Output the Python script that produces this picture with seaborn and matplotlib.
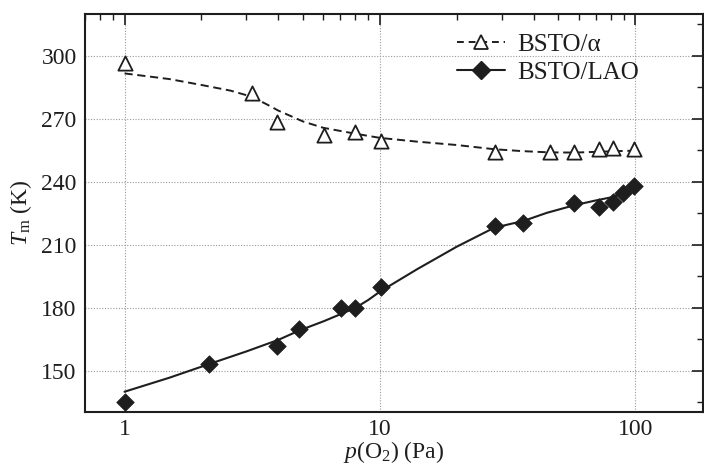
import matplotlib
matplotlib.use("Agg")
import matplotlib.pyplot as plt
from matplotlib.lines import Line2D
from matplotlib.ticker import LogLocator, MultipleLocator, NullFormatter, FixedLocator, FixedFormatter
import seaborn as sns
import pandas as pd

# Measured Tm of BSTO films versus oxygen pressure
p_alpha = [1.0, 3.15, 3.95, 6.05, 8.0, 10.1, 28.1, 46.4, 57.7, 72.1, 82.0, 99.1]
T_alpha = [296.5, 282.5, 268.7, 262.4, 264.0, 259.5, 254.4, 254.1, 254.1, 255.6, 256.0, 255.7]

p_lao = [1.0, 2.145, 3.95, 4.84, 7.03, 8.0, 10.1, 28.1, 36.3, 57.7, 72.1, 82.0, 89.8, 99.0]
T_lao = [135.4, 153.3, 162.0, 169.9, 180.1, 180.1, 189.9, 219.0, 220.3, 229.9, 228.0, 230.6, 234.6, 238.2]

# Guide-to-the-eye curves
fit_p_alpha = [1.0, 1.5, 2.0, 2.6, 3.15, 3.6, 4.0, 5.0, 6.0, 8.0, 10.0, 14.0, 20.0, 28.0, 36.0, 46.0, 58.0, 72.0, 85.0, 100.0]
fit_T_alpha = [291.7, 289.0, 286.2, 283.5, 280.6, 277.0, 274.0, 268.8, 265.8, 263.0, 261.0, 259.2, 257.6, 255.6, 254.7, 254.1, 254.0, 254.4, 254.7, 254.9]

fit_p_lao = [1.0, 1.5, 2.145, 3.0, 4.0, 4.84, 6.0, 7.0, 8.0, 9.0, 10.0, 14.0, 20.0, 28.0, 36.6, 45.0, 58.0, 70.0, 82.0, 92.0, 100.0]
fit_T_lao = [140.1, 146.8, 153.3, 159.3, 164.8, 169.3, 173.6, 177.0, 180.0, 183.8, 187.8, 198.5, 209.2, 218.2, 221.5, 225.3, 229.0, 231.2, 232.9, 235.0, 237.3]

x_ticks = [1, 10, 100]
x_ticklabels = ["1", "10", "100"]
y_ticks = [150, 180, 210, 240, 270, 300]

sns.set_theme(style="white")
plt.rcParams["font.family"] = ["Liberation Serif", "DejaVu Serif"]
plt.rcParams["mathtext.fontset"] = "custom"
plt.rcParams["mathtext.rm"] = "Liberation Serif"
plt.rcParams["mathtext.it"] = "Liberation Serif:italic"

INK = "#1e1e1e"

fig = plt.figure(figsize=(7.04, 4.65), dpi=100)
ax = fig.add_axes([0.1207, 0.1133, 0.8779, 0.8566])

fit_a = pd.DataFrame({"p": fit_p_alpha, "T": fit_T_alpha})
fit_l = pd.DataFrame({"p": fit_p_lao, "T": fit_T_lao})
pts_a = pd.DataFrame({"p": p_alpha, "T": T_alpha})
pts_l = pd.DataFrame({"p": p_lao, "T": T_lao})

sns.lineplot(data=fit_a, x="p", y="T", ax=ax, color=INK, lw=1.4,
             sort=False, zorder=3)
ax.lines[-1].set_dashes([4.2, 2.4])
sns.lineplot(data=fit_l, x="p", y="T", ax=ax, color=INK, lw=1.5,
             sort=False, zorder=3)

sns.scatterplot(data=pts_a, x="p", y="T", ax=ax, marker="^", s=105,
                facecolor="white", edgecolor=INK, linewidth=1.3, zorder=4)
sns.scatterplot(data=pts_l, x="p", y="T", ax=ax, marker="D", s=80,
                color=INK, edgecolor=INK, linewidth=0.5, zorder=4)

ax.set_xscale("log")
ax.set_xlim(0.70, 184)
ax.set_ylim(130.3, 320)

ax.xaxis.set_major_locator(FixedLocator(x_ticks))
ax.xaxis.set_major_formatter(FixedFormatter(x_ticklabels))
ax.xaxis.set_minor_locator(LogLocator(base=10, subs=range(2, 10)))
ax.xaxis.set_minor_formatter(NullFormatter())
ax.yaxis.set_major_locator(FixedLocator(y_ticks))
ax.yaxis.set_minor_locator(MultipleLocator(15))

ax.grid(True, which="major", color="#999999", linestyle=(0, (1, 1.5)), lw=0.8)
ax.tick_params(which="both", direction="in", top=True, right=True,
               color=INK, labelsize=17, labelcolor=INK)
ax.tick_params(which="major", length=8, width=1.2, pad=6)
ax.tick_params(axis="x", which="major", pad=5)
ax.tick_params(which="minor", length=4.5, width=1.0)
for s in ax.spines.values():
    s.set_color(INK)
    s.set_linewidth(1.5)

ax.set_xlabel(r"$p$(O$_2$) (Pa)", fontsize=17, color=INK, labelpad=-1)
ax.set_ylabel(r"$T_{\rm m}$ (K)", fontsize=17, color=INK, labelpad=5)

handles = [
    Line2D([], [], color=INK, lw=1.4, dashes=[3.5, 2.5], marker="^", ms=10,
           mfc="white", mec=INK, mew=1.3),
    Line2D([], [], color=INK, lw=1.5, marker="D", ms=9,
           mfc=INK, mec=INK),
]
ax.legend(handles, ["BSTO/\u03b1", "BSTO/LAO"], loc="upper left",
          bbox_to_anchor=(0.566, 1.008), frameon=False, fontsize=18,
          handlelength=1.9, handletextpad=0.5, labelspacing=0.22,
          labelcolor=INK)

fig.savefig("out.png", dpi=100)
